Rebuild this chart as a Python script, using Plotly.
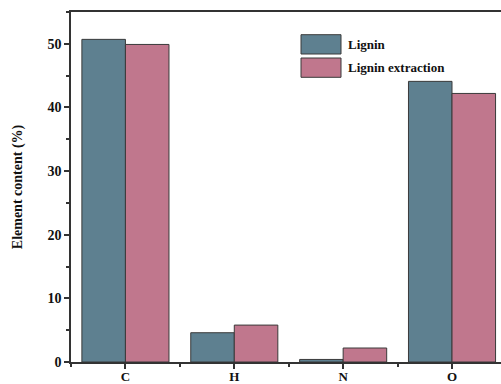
import plotly.graph_objects as go

categories = ["C", "H", "N", "O"]
series_names = ["Lignin", "Lignin extraction"]
lignin = [50.7, 4.6, 0.4, 44.1]
lignin_extraction = [49.9, 5.8, 2.2, 42.2]
y_ticks = [0, 10, 20, 30, 40, 50]
colors = ["#5e8090", "#c0778d"]

xpos = list(range(len(categories)))
FONT = "Liberation Serif"

fig = go.Figure()
for name, vals, col in zip(series_names, [lignin, lignin_extraction], colors):
    fig.add_trace(go.Bar(
        x=xpos, y=vals, name=name,
        marker=dict(color=col, line=dict(color="#3a3a3a", width=1)),
        width=0.4, showlegend=False,
    ))

fig.update_layout(
    width=501, height=384,
    margin=dict(l=71, r=0, t=12, b=22),
    paper_bgcolor="white", plot_bgcolor="white",
    barmode="group", bargap=0.2, bargroupgap=0,
    font=dict(family=FONT, size=13, color="#111"),
    showlegend=False,
)

fig.update_xaxes(
    range=[-0.5, 3.45], automargin=False,
    tickvals=xpos, ticktext=["<b>%s</b>" % c for c in categories],
    ticks="outside", ticklen=5, tickwidth=1.5, tickcolor="#333",
    showline=True, linecolor="#333", linewidth=1.5, mirror=True,
    showgrid=False, zeroline=False,
    tickfont=dict(family=FONT, size=13, color="#111"),
    ticklabelstandoff=-3,
    minor=dict(tick0=0.5, dtick=1, ticks="outside", ticklen=3, tickcolor="#333", tickwidth=1.5),
)
fig.update_yaxes(
    range=[0, 55], automargin=False,
    tickvals=y_ticks, ticktext=["<b>%d</b>" % v for v in y_ticks],
    ticks="outside", ticklen=5, tickwidth=1.5, tickcolor="#333",
    showline=True, linecolor="#333", linewidth=1.5,
    showgrid=False, zeroline=False,
    tickfont=dict(family=FONT, size=14, color="#111"),
    minor=dict(tick0=5, dtick=10, ticks="outside", ticklen=3, tickcolor="#333", tickwidth=1.5),
    title=dict(text="<b>Element content (%)</b>", font=dict(family=FONT, size=14, color="#111"), standoff=22),
)

# custom legend (large swatches)
plot_l, plot_w, plot_t, plot_h = 71, 430, 12, 350
def px2paper(x, y):
    return (x - plot_l) / plot_w, (plot_t + plot_h - y) / plot_h

sw = [(301, 34.7, 341, 54), (301, 58, 341, 77.3)]
for (x0, y0, x1, y1), col, name in zip(sw, colors, series_names):
    px0, py0 = px2paper(x0, y0)
    px1, py1 = px2paper(x1, y1)
    fig.add_shape(type="rect", xref="paper", yref="paper", x0=px0, x1=px1, y0=py1, y1=py0,
                  fillcolor=col, line=dict(color="#3a3a3a", width=1))
    tx, ty = px2paper(346, (y0 + y1) / 2)
    fig.add_annotation(xref="paper", yref="paper", x=tx, y=ty, xanchor="left", yanchor="middle",
                       text="<b>%s</b>" % name, showarrow=False,
                       font=dict(family=FONT, size=13, color="#111"))

fig.write_html("out.html", config={"displayModeBar": False},
               post_script="document.body.style.margin='0';document.body.style.overflow='hidden';")
